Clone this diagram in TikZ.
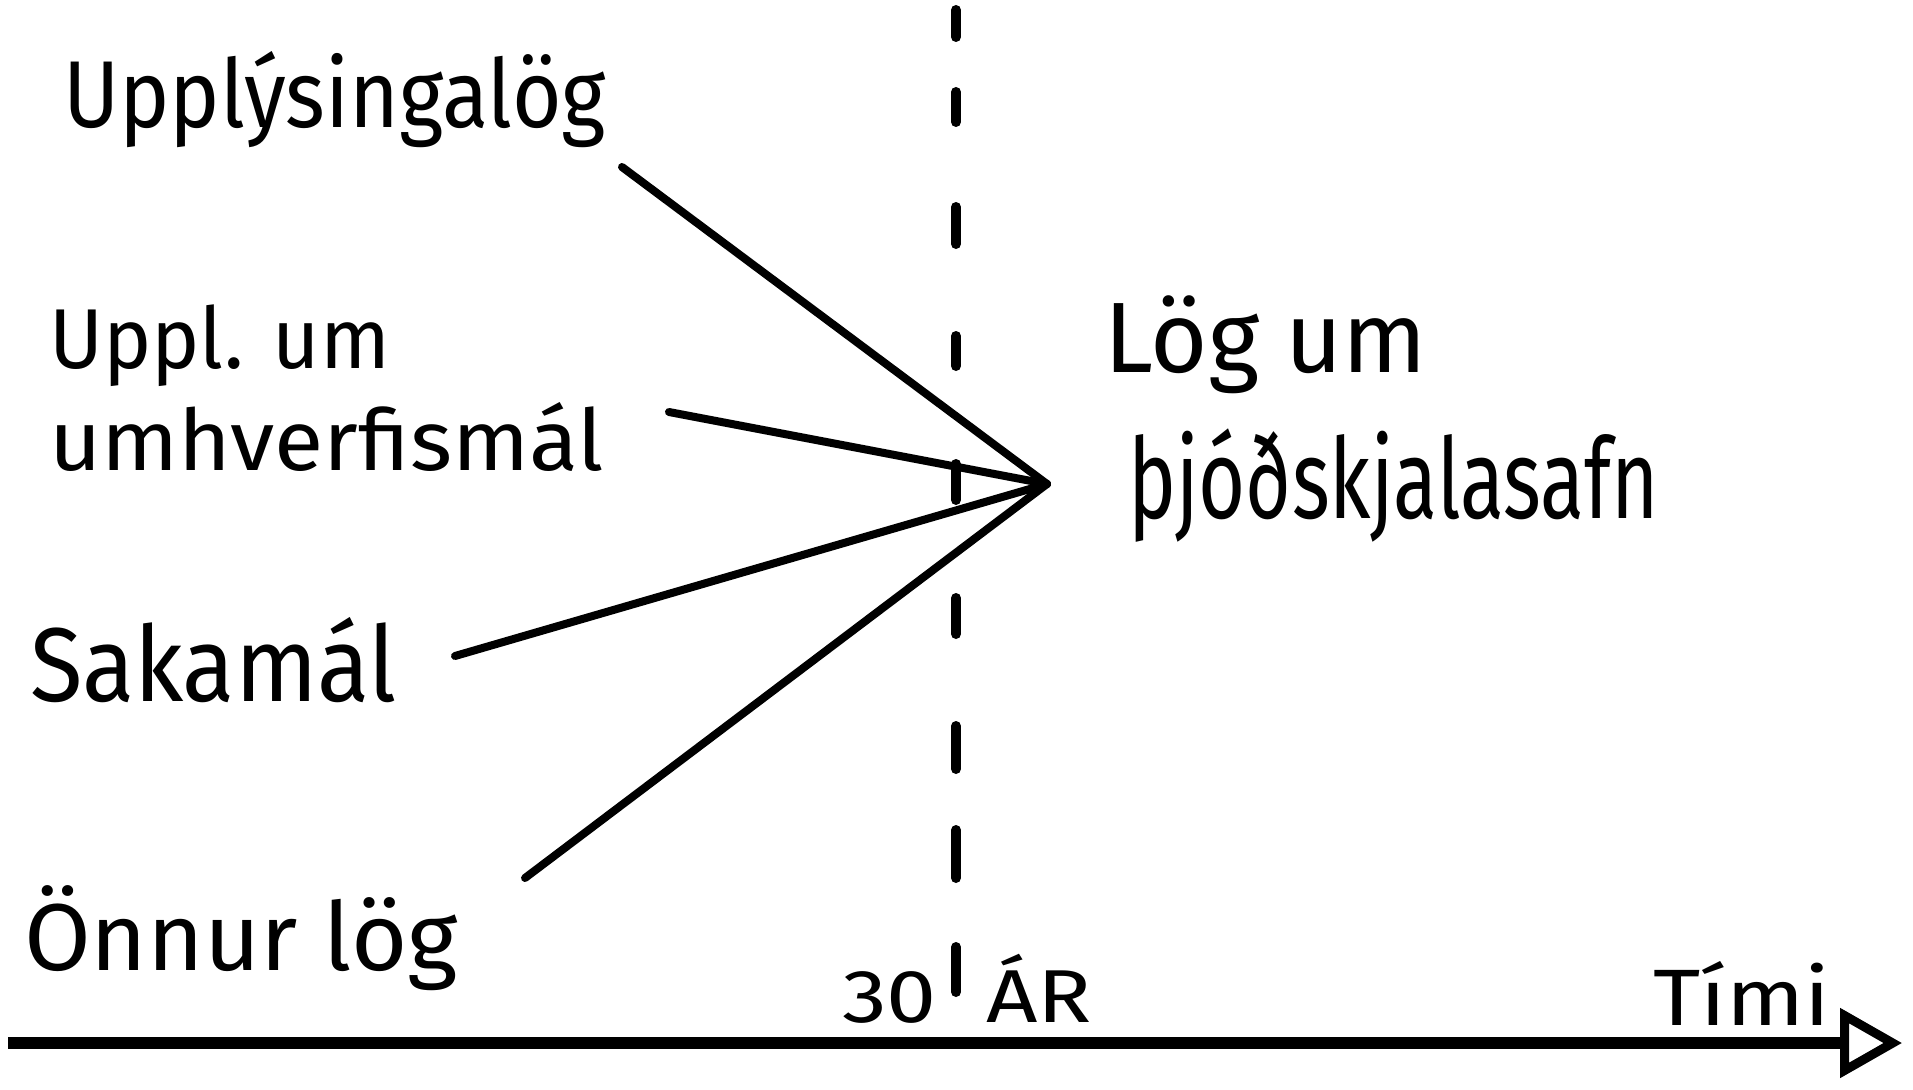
\documentclass[tikz,border=0pt]{standalone}
\usepackage{fontspec}
\setmainfont{Fira Sans}
\usetikzlibrary{arrows.meta}
\newcommand\fitw[2]{\resizebox{#1}{\height}{#2}}
\newcommand\fsz[1]{\fontsize{#1}{#1}\selectfont}
\begin{document}
\begin{tikzpicture}[x=1pt,y=-1pt,
  lbl/.style={anchor=base west, inner sep=0pt, outer sep=0pt, text=black},
  link/.style={line width=8pt, line cap=round},
  dashpart/.style={line width=10pt, line cap=round},
  axisline/.style={line width=12pt, -{Triangle[open, length=62pt, width=68pt, line width=9pt]}}]
\useasboundingbox[fill=white] (0,0) rectangle (1913,1089);

% labels
\node[lbl, font=\fsz{95}] (t1) at (63,128) {\fitw{543pt}{Upplýsingalög}};
\node[lbl, font=\fsz{85}] (t2a) at (49,368) {\fitw{341pt}{Uppl. um}};
\node[lbl, font=\fsz{85}] (t2b) at (49,470) {\fitw{555pt}{umhverfismál}};
\node[lbl, font=\fsz{105}] (t3) at (30,701) {\fitw{367pt}{Sakamál}};
\node[lbl, font=\fsz{95}] (t4) at (24,970) {\fitw{434pt}{Önnur lög}};
\node[lbl, font=\fsz{100}] (t5) at (1104,372) {\fitw{323pt}{Lög um}};
\node[lbl, font=\fsz{112}] (t6) at (1128,518) {\fitw{531pt}{þjóðskjalasafn}};
\node[lbl, font=\fsz{75}] (t7) at (842,1022) {\fitw{250pt}{30\hspace{0.55em}ÁR}};
\node[lbl, font=\fsz{80}] (t8) at (1653,1025) {\fitw{177pt}{Tími}};

% dashed 30-year line
\draw[dashpart] (956,10) -- (956,37)
  (956,92) -- (956,122)
  (956,207) -- (956,244)
  (956,336) -- (956,366)
  (956,464) -- (956,500)
  (956,598) -- (956,634)
  (956,726) -- (956,769)
  (956,830) -- (956,878)
  (956,947) -- (956,992);

% connectors
\coordinate (hub) at (1047,484);
\coordinate (s1) at (622,167);
\coordinate (s2) at (669,412);
\coordinate (s3) at (455,656);
\coordinate (s4) at (525,878);
\draw[link] (s1) -- (hub);
\draw[link] (s2) -- (hub);
\draw[link] (s3) -- (hub);
\draw[link] (s4) -- (hub);

% time axis
\coordinate (a0) at (8,1043);
\coordinate (a1) at (1902,1043);
\draw[axisline] (a0) -- (a1);
\end{tikzpicture}
\end{document}
